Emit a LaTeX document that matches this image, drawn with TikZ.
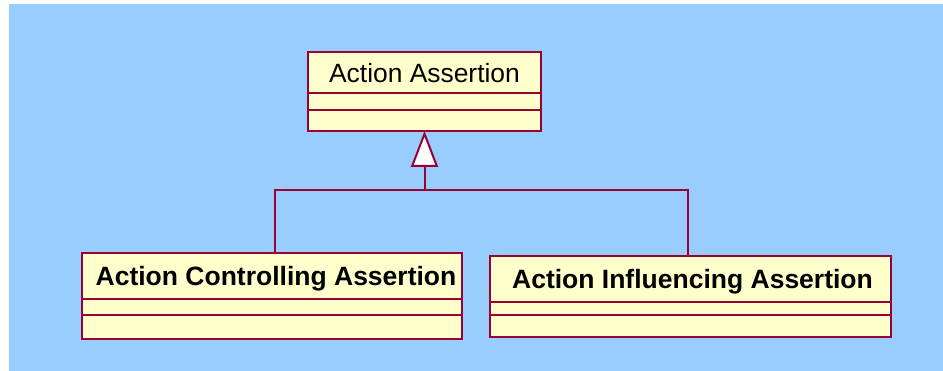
\documentclass[tikz,border=0pt]{standalone}
\usepackage{fontspec}
\setmainfont{Liberation Sans}
\usepackage{xcolor}
\usetikzlibrary{positioning,shapes,arrows.meta}

\definecolor{bgblue}{HTML}{99CCFF}
\definecolor{classfill}{HTML}{FFFFCC}
\definecolor{umlred}{HTML}{990033}

\begin{document}
\begin{tikzpicture}[x=1pt,y=-1pt,
  every node/.append style={inner sep=0pt,outer sep=0pt},
  classpart/.style={draw=umlred,fill=classfill,line width=2.6pt,rectangle},
  classname/.style={classpart,text height=22pt,text depth=2.6pt,font=\fontsize{26.4}{30}\selectfont},
  subname/.style={classname,font=\fontsize{26.5}{30}\selectfont\bfseries},
  link/.style={draw=umlred,line width=2pt},
  inherit/.style={link,-{Triangle[length=36pt,width=27pt,fill=white,line width=2pt]}}]
\useasboundingbox (0,0) rectangle (943,371);
\fill [bgblue] (9,4) rectangle (943,371);
% superclass
\node [classname,minimum width=233pt,minimum height=41pt] (aa) at (424.5,72.5) {Action Assertion};
\node [classpart,minimum width=233pt,minimum height=17pt,below=0pt of aa] (aa2) {};
\node [classpart,minimum width=233pt,minimum height=21pt,below=0pt of aa2] (aa3) {};
% subclasses
\node [subname,minimum width=380pt,minimum height=46pt] (aca) at (272,276) {\hspace*{8pt}Action Controlling Assertion};
\node [classpart,minimum width=380pt,minimum height=16pt,below=0pt of aca] (aca2) {};
\node [classpart,minimum width=380pt,minimum height=24pt,below=0pt of aca2] (aca3) {};
\node [subname,minimum width=401pt,minimum height=46pt] (aia) at (690.5,279) {\hspace*{4pt}Action Influencing Assertion};
\node [classpart,minimum width=401pt,minimum height=13pt,below=0pt of aia] (aia2) {};
\node [classpart,minimum width=401pt,minimum height=22pt,below=0pt of aia2] (aia3) {};
% generalisation
\coordinate (hub) at (424.5,190);
\draw [link] ([xshift=3pt]aca.north) |- (hub) -| ([xshift=-3pt]aia.north);
\draw [inherit] (hub) -- (aa3.south);
\end{tikzpicture}
\end{document}
